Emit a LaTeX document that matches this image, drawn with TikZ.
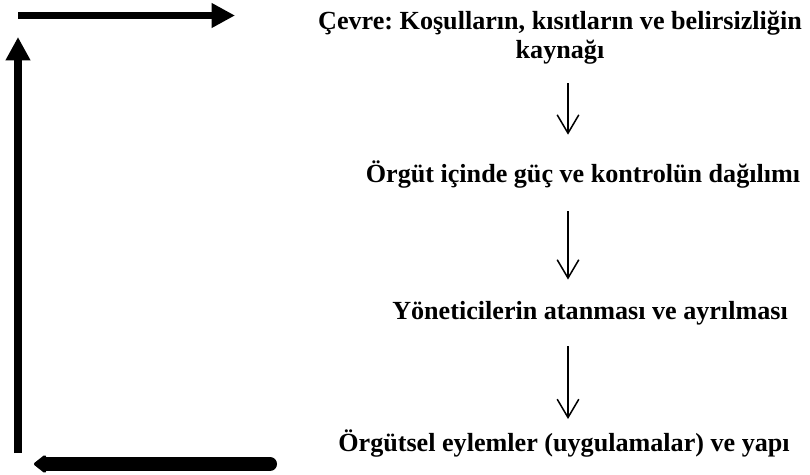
\documentclass[tikz,border=0pt]{standalone}
\usepackage{fontspec}
\setmainfont{Liberation Serif}
\usepackage{tikz}
\usetikzlibrary{arrows.meta,positioning}

\begin{document}
\frenchspacing
\begin{tikzpicture}[x=0.03cm,y=-0.03cm,
    stage/.style={font=\bfseries\fontsize{22.3}{25}\selectfont,align=center,inner sep=2pt},
    flow/.style={line width=1.3pt,-{Straight Barb[length=0.55cm,width=0.65cm]}},
    loopline/.style={line width=6.8pt,-{Triangle[length=0.7cm,width=0.7cm]}}]
  \useasboundingbox (0,0) rectangle (810,475);
  % stages of the cycle
  \node[stage] (env) at (560,38) {Çevre: Koşulların, kısıtların ve belirsizliğin\\kaynağı};
  \node[stage] (power) at (583,175) {Örgüt içinde güç ve kontrolün dağılımı};
  \node[stage] (managers) at (590,313) {Yöneticilerin atanması ve ayrılması};
  \node[stage] (actions) at (564,444) {Örgütsel eylemler (uygulamalar) ve yapı};
  \coordinate (axis) at (568,0);
  \draw[flow] ([yshift=-0.475cm]env.south -| axis) -- ([yshift=0.72cm]power.north -| axis);
  \draw[flow] ([yshift=-0.6cm]power.south -| axis) -- ([yshift=0.57cm]managers.north -| axis);
  \draw[flow] ([yshift=-0.57cm]managers.south -| axis) -- ([yshift=0.26cm]actions.north -| axis);
  % feedback loop
  \coordinate (back0) at (270,464);
  \coordinate (back1) at (34,464);
  \coordinate (up0) at (18,453);
  \coordinate (up1) at (18,37);
  \coordinate (top0) at (18,15.5);
  \coordinate (top1) at (235,15.5);
  \draw[line width=12pt,line cap=round,-{Triangle[round,length=0.4cm,width=0.6cm]}] (back0) -- (back1);
  \draw[loopline] (up0) -- (up1);
  \draw[loopline] (top0) -- (top1);
\end{tikzpicture}
\end{document}
